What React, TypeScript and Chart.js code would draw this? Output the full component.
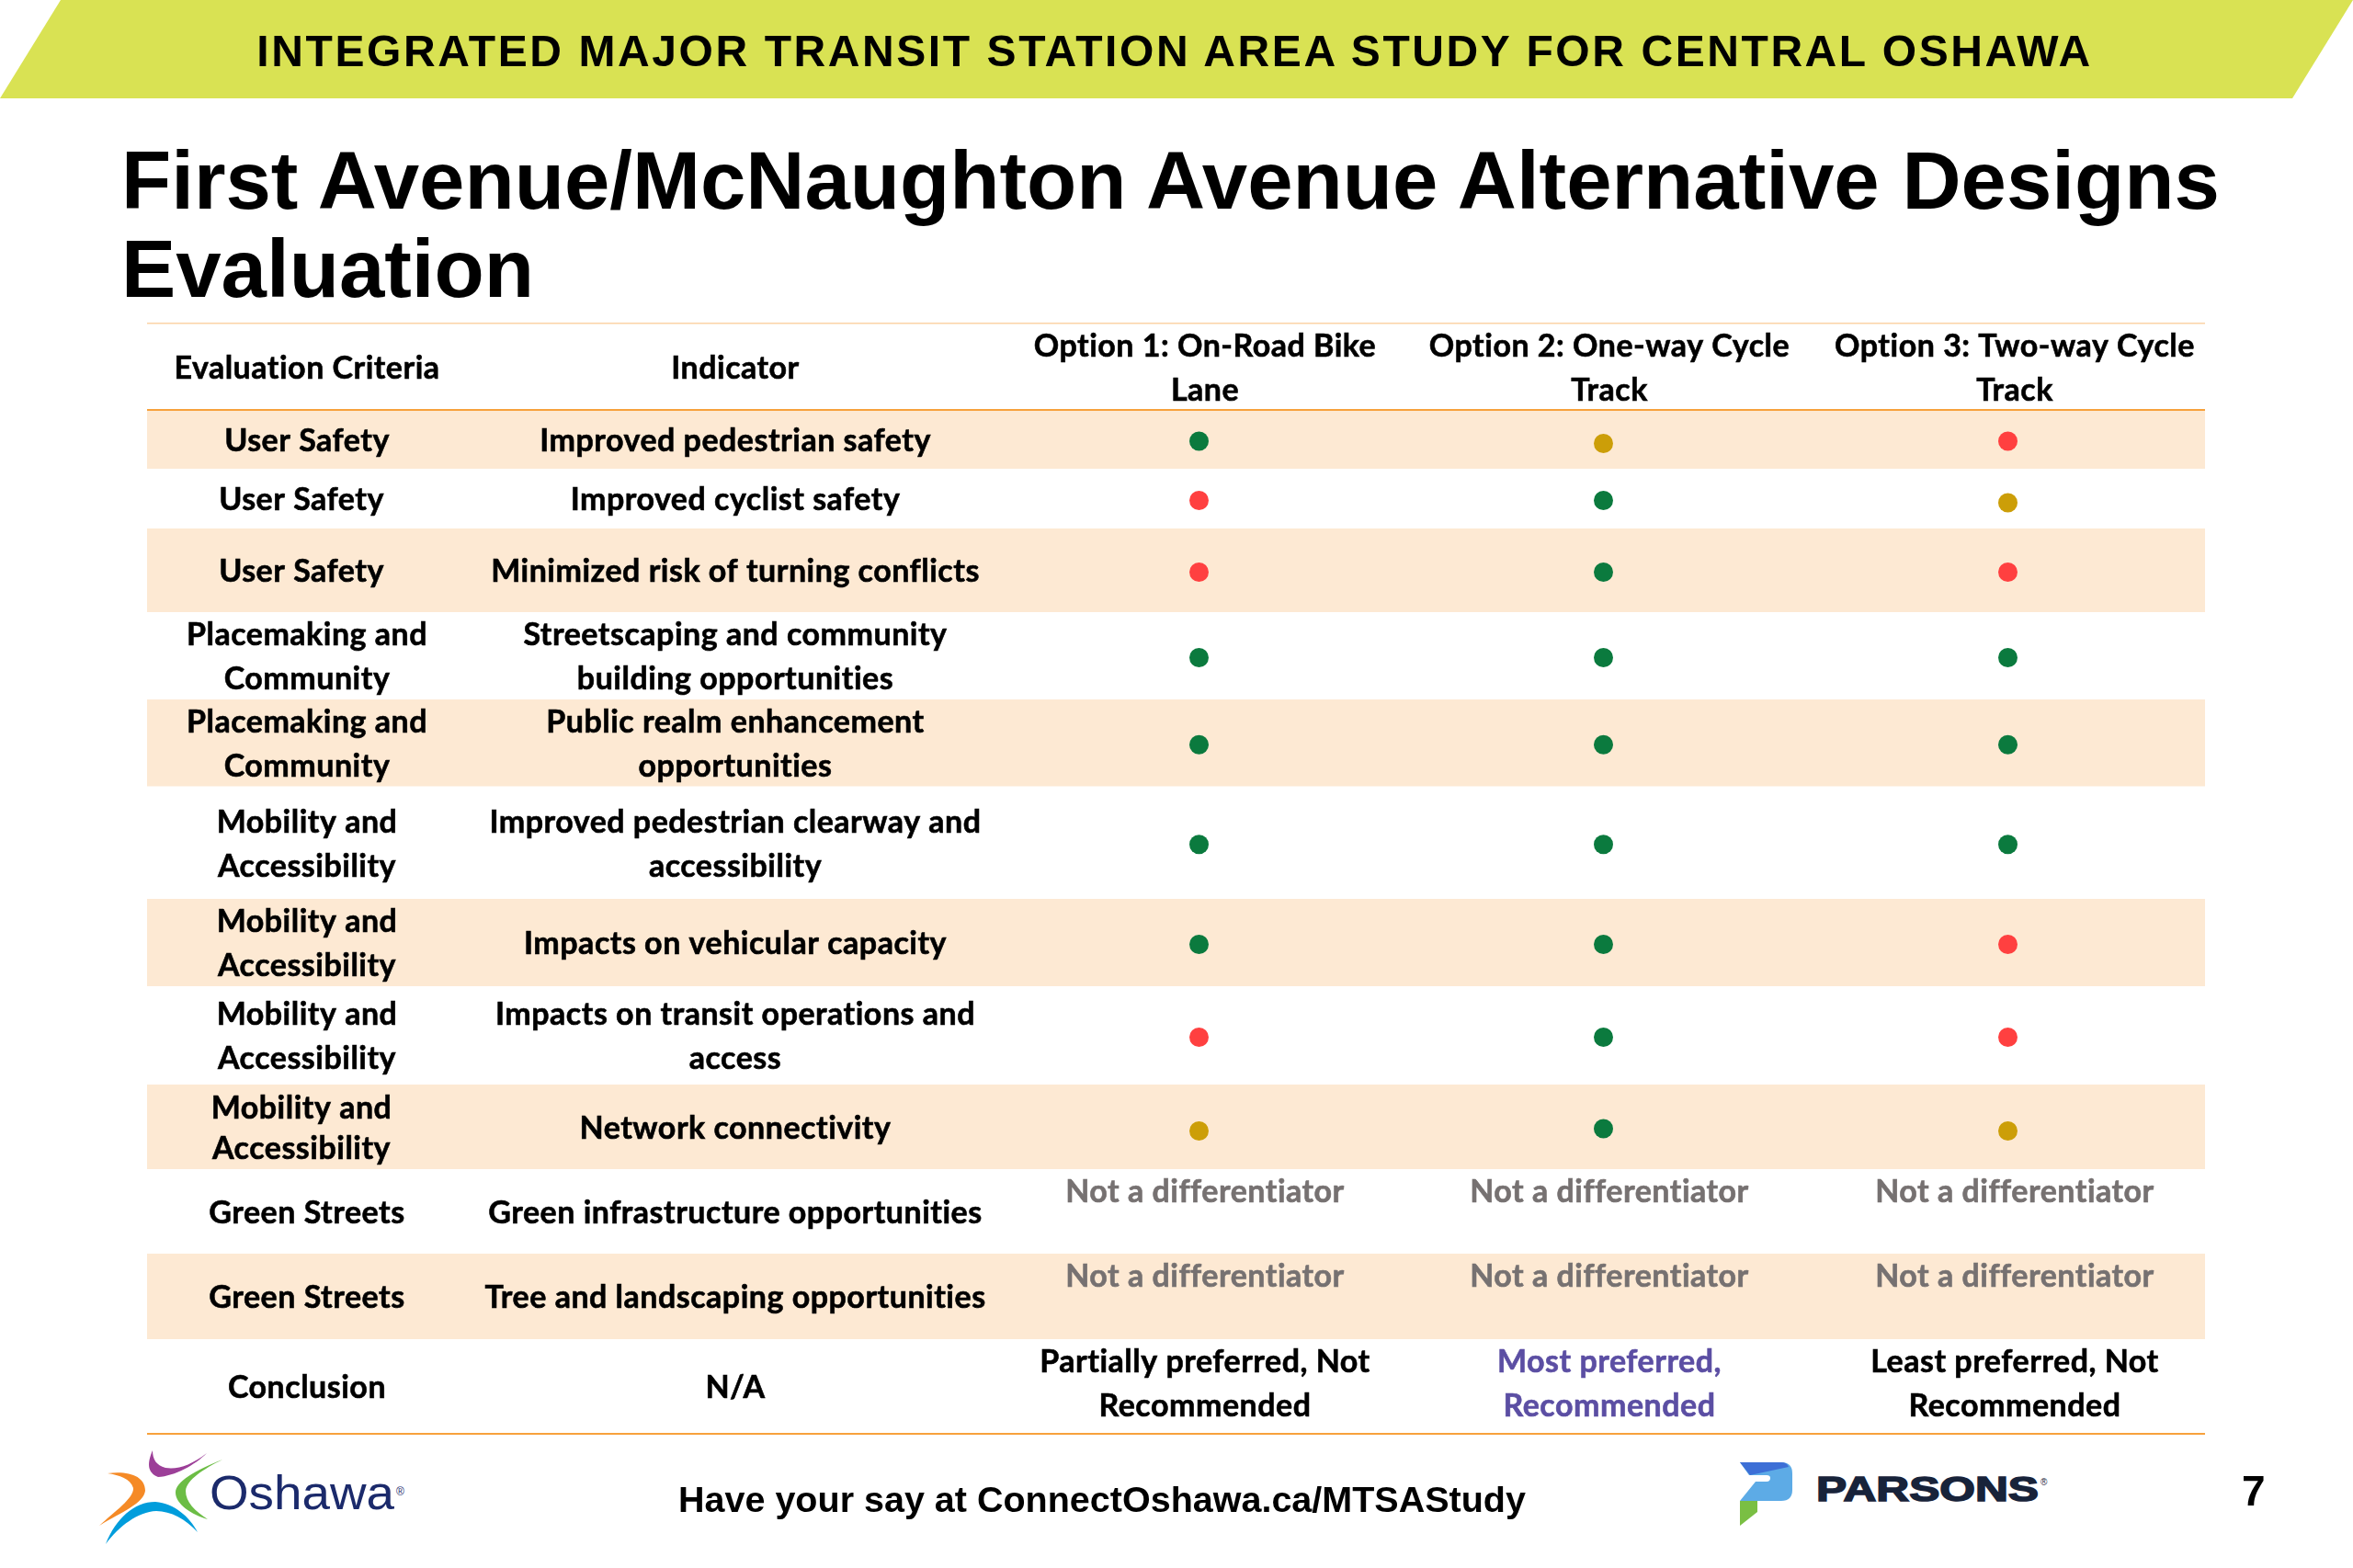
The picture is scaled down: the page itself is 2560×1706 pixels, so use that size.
import { useEffect, useRef } from "react";
import { Chart, registerables } from "chart.js";

Chart.register(...registerables);

const criteria = [
  "User Safety",
  "User Safety",
  "User Safety",
  "Placemaking and\nCommunity",
  "Placemaking and\nCommunity",
  "Mobility and\nAccessibility",
  "Mobility and\nAccessibility",
  "Mobility and\nAccessibility",
  "Mobility and\nAccessibility",
  "Green Streets",
  "Green Streets",
  "Conclusion",
];
const indicators = [
  "Improved pedestrian safety",
  "Improved cyclist safety",
  "Minimized risk of turning conflicts",
  "Streetscaping and community\nbuilding opportunities",
  "Public realm enhancement\nopportunities",
  "Improved pedestrian clearway and\naccessibility",
  "Impacts on vehicular capacity",
  "Impacts on transit operations and\naccess",
  "Network connectivity",
  "Green infrastructure opportunities",
  "Tree and landscaping opportunities",
  "N/A",
];
const headers = [
  "Evaluation Criteria",
  "Indicator",
  "Option 1: On-Road Bike\nLane",
  "Option 2: One-way Cycle\nTrack",
  "Option 3: Two-way Cycle\nTrack",
];
// g = green, a = amber, r = red, null = no dot in that row
const option1 = ["g", "r", "r", "g", "g", "g", "g", "r", "a", null, null, null];
const option2 = ["a", "g", "g", "g", "g", "g", "g", "g", "g", null, null, null];
const option3 = ["r", "a", "r", "g", "g", "g", "r", "r", "a", null, null, null];
const optionRatings = [option1, option2, option3];
const conclusions = ["Partially preferred, Not\nRecommended", "Most preferred,\nRecommended", "Least preferred, Not\nRecommended"];
const notDifferentiator = "Not a differentiator";

// table layout, in page pixels
const TABLE = { left: 160, right: 2399, top: 352, bottom: 1560 };
const HEADER_H = 94;
const ROW_H = [64, 65, 91, 95, 94.5, 122.5, 95, 107, 92, 92, 93, 103];
const COL_X = [334, 800, 1311, 1751, 2192];
const LINE_H = 48;
const BODY_FONT = "bold 34px Lato";

const dotColors: Record<string, string> = { g: "#0b7a3e", a: "#cc9e08", r: "#ff4040" };

const rowTop = (i: number) => HEADER_H + ROW_H.slice(0, i).reduce((a, b) => a + b, 0);
const rowMid = (i: number) => rowTop(i) + ROW_H[i] / 2;

function drawLines(ctx: CanvasRenderingContext2D, text: string, x: number, y: number, lineH = LINE_H) {
  const lines = text.split("\n");
  lines.forEach((line, i) => {
    const ly = y + (i - (lines.length - 1) / 2) * lineH;
    // Lato bold is a bit lighter than the reference face
    ctx.strokeStyle = ctx.fillStyle;
    ctx.strokeText(line, x, ly);
    ctx.fillText(line, x, ly);
  });
}

const tablePlugin = {
  id: "tablePlugin",
  beforeDatasetsDraw(chart: Chart) {
    const { ctx } = chart;
    const y = chart.scales.y;
    ctx.save();
    ctx.fillStyle = "#fde9d3";
    ROW_H.forEach((_, i) => {
      if (i % 2 === 0 && i < 11) {
        const top = y.getPixelForValue(rowTop(i));
        ctx.fillRect(TABLE.left, top, TABLE.right - TABLE.left, y.getPixelForValue(rowTop(i + 1)) - top);
      }
    });
    ctx.fillStyle = "#fbd3a6";
    ctx.fillRect(TABLE.left, TABLE.top - 1, TABLE.right - TABLE.left, 1.5);
    ctx.fillStyle = "#f7a13c";
    ctx.fillRect(TABLE.left, y.getPixelForValue(HEADER_H) - 1, TABLE.right - TABLE.left, 2);
    ctx.fillRect(TABLE.left, TABLE.bottom - 1, TABLE.right - TABLE.left, 2);
    ctx.restore();
  },
  afterDatasetsDraw(chart: Chart) {
    const { ctx } = chart;
    const y = chart.scales.y;
    ctx.save();
    ctx.font = BODY_FONT;
    (ctx as any).letterSpacing = "0.5px";
    ctx.lineWidth = 0.6;
    ctx.textAlign = "center";
    ctx.textBaseline = "middle";
    ctx.fillStyle = "#000";
    headers.forEach((h, c) => {
      drawLines(ctx, h, COL_X[c], y.getPixelForValue(HEADER_H / 2) + 2);
    });
    ROW_H.forEach((_, i) => {
      const mid = y.getPixelForValue(rowMid(i)) + 2;
      const lineH = i === 8 ? 44 : LINE_H;
      const shifted = i === 1 || i === 2 || i === 8;
      ctx.fillStyle = "#000";
      drawLines(ctx, criteria[i], COL_X[0] - (shifted ? 6 : 0), mid, lineH);
      drawLines(ctx, indicators[i], COL_X[1], mid, lineH);
      if (i === 9 || i === 10) {
        ctx.fillStyle = "#767171";
        COL_X.slice(2).forEach((x) => drawLines(ctx, notDifferentiator, x, mid - 23));
      }
      if (i === 11) {
        conclusions.forEach((t, c) => {
          ctx.fillStyle = c === 1 ? "#5b4ea3" : "#000";
          drawLines(ctx, t, COL_X[c + 2], mid - 4);
        });
      }
    });
    ctx.restore();
  },
};

function ratingPoints(ratings: (string | null)[], option: number) {
  const pts: { x: number; y: number }[] = [];
  ratings.forEach((r, i) => {
    if (r) pts.push({ x: option, y: rowMid(i) + (r === "a" ? 4.5 : 2) });
  });
  return pts;
}

export default function App() {
  const chartRef = useRef<HTMLCanvasElement>(null);

  useEffect(() => {
    document.body.style.margin = "0";
    if (!chartRef.current) return;
    const chart = new Chart(chartRef.current, {
      type: "scatter",
      data: {
        datasets: optionRatings.map((ratings, o) => ({
          label: `Option ${o + 1}`,
          data: ratingPoints(ratings, o + 1),
          pointRadius: 10.5,
          pointBorderWidth: 0,
          pointBackgroundColor: ratings.filter(Boolean).map((r) => dotColors[r as string]),
        })),
      },
      options: {
        animation: false,
        responsive: false,
        devicePixelRatio: 1,
        layout: {
          padding: { left: TABLE.left, right: 2560 - TABLE.right, top: TABLE.top, bottom: 1706 - TABLE.bottom },
        },
        plugins: { legend: { display: false }, tooltip: { enabled: false } },
        scales: {
          // options sit 440px apart, first one at x = 1304.5
          x: { type: "linear", display: false, min: 1 - 1144.5 / 440, max: 1 + 1094.5 / 440 },
          y: { type: "linear", display: false, reverse: true, min: 0, max: TABLE.bottom - TABLE.top },
        },
      },
      plugins: [tablePlugin],
    });
    return () => chart.destroy();
  }, []);

  const abs = (s: React.CSSProperties): React.CSSProperties => ({ position: "absolute", whiteSpace: "nowrap", ...s });

  return (
    <div style={{ position: "absolute", left: 0, top: 0, width: 2560, height: 1706, background: "#fff", overflow: "hidden", fontFamily: "'Liberation Sans'" }}>
      <svg width={2560} height={1706} style={{ position: "absolute", left: 0, top: 0 }}>
        <polygon points="66,0 2560,0 2494,107 0,107" fill="#d9e253" />
        {/* Oshawa logo */}
        <path d="M166,1578 C160,1592 160,1602 172,1607 C190,1606 212,1594 225,1581 C208,1594 194,1599 180,1597 C170,1594 166,1588 166,1578 Z" fill="#9c3f98" />
        <path d="M117,1603 C140,1600 158,1606 158,1622 C156,1636 134,1644 108,1660 C124,1645 146,1630 145,1619 C142,1609 130,1605 117,1603 Z" fill="#f58a26" />
        <path d="M242,1588 C212,1600 191,1612 191,1624 C191,1636 208,1648 226,1653 C212,1644 202,1634 202,1622 C203,1610 222,1598 242,1588 Z" fill="#6cbd45" />
        <path d="M115,1680 C126,1652 146,1634 169,1634 C190,1636 206,1650 215,1667 C202,1653 186,1644 170,1644 C150,1645 130,1660 115,1680 Z" fill="#009ddc" />
        <text x={228} y={1642} fontFamily="'Liberation Sans'" fontSize={52} fill="#1b2a6b" textLength={201} lengthAdjust="spacingAndGlyphs">Oshawa</text>
        <text x={431} y={1627} fontFamily="'Liberation Sans'" fontSize={12} fill="#1b2a6b">®</text>
        {/* Parsons logo */}
        <path d="M1893,1591 L1938,1591 Q1950,1591 1950,1603 L1950,1621 Q1950,1633 1938,1633 L1893,1633 L1910,1612 L1922,1612 Q1926,1612 1926,1608 Q1926,1605 1922,1605 L1903,1605 Z" fill="#5dabe6" />
        <path d="M1893,1591 L1938,1591 Q1944,1591 1946,1596 L1904,1605 Z" fill="#3d6fd6" />
        <path d="M1893,1633 L1912,1633 L1912,1645 L1893,1660 Z" fill="#7abf43" />
        <text x={1976} y={1633} fontFamily="'Liberation Sans'" fontWeight="bold" fontSize={36} fill="#18233a" stroke="#18233a" strokeWidth={1.5} textLength={242} lengthAdjust="spacingAndGlyphs">PARSONS</text>
        <text x={2220} y={1616} fontFamily="'Liberation Sans'" fontSize={10} fill="#18233a">®</text>
      </svg>
      <canvas ref={chartRef} width={2560} height={1706} style={{ position: "absolute", left: 0, top: 0 }} />
      <div style={abs({ left: 0, width: 2556, top: 24, textAlign: "center", fontSize: 48, lineHeight: "64px", fontWeight: "bold", letterSpacing: 2.58, color: "#000" })}>
        INTEGRATED MAJOR TRANSIT STATION AREA STUDY FOR CENTRAL OSHAWA
      </div>
      <div style={abs({ left: 132, top: 149, fontSize: 88.8, lineHeight: "96px", fontWeight: "bold", color: "#000" })}>
        First Avenue/McNaughton Avenue Alternative Designs
        <br />
        Evaluation
      </div>
      <div style={abs({ left: 738, top: 1608, fontSize: 39.5, lineHeight: "46px", fontWeight: "bold", color: "#000" })}>
        Have your say at ConnectOshawa.ca/MTSAStudy
      </div>
      <div style={abs({ left: 2439, top: 1596, fontSize: 46, lineHeight: "52px", fontWeight: "bold", color: "#000" })}>7</div>
    </div>
  );
}
